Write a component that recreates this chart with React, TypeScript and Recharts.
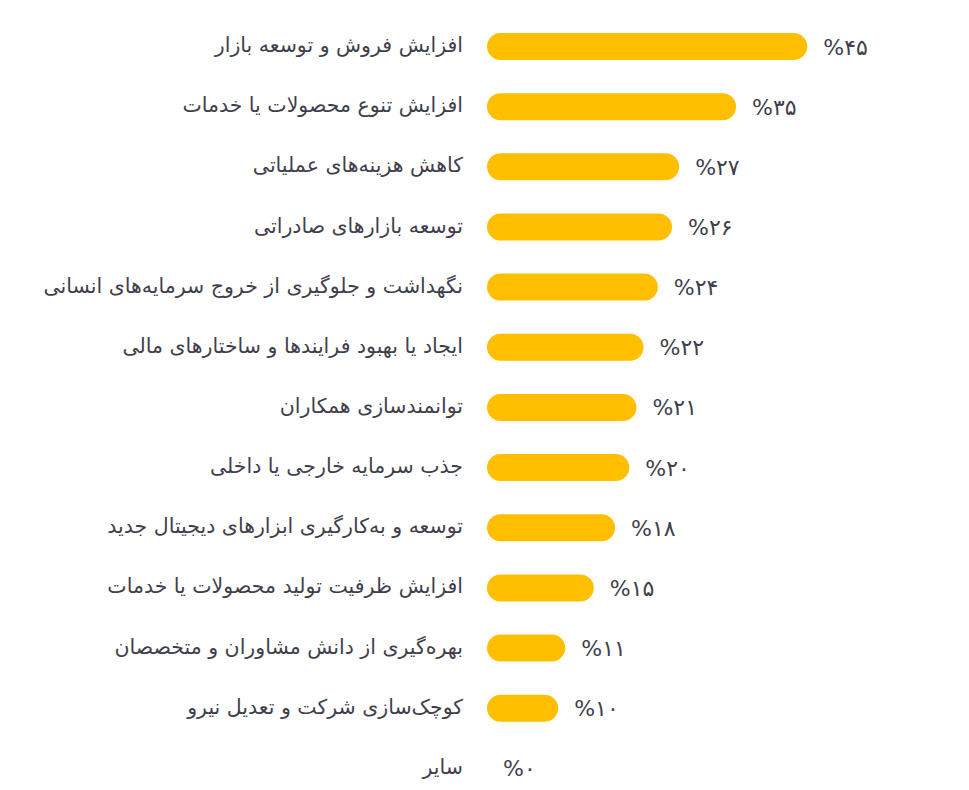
import { BarChart, Bar, XAxis, YAxis, LabelList, Cell } from "recharts";

const categories = [
  "افزایش فروش و توسعه بازار",
  "افزایش تنوع محصولات یا خدمات",
  "کاهش هزینه‌های عملیاتی",
  "توسعه بازارهای صادراتی",
  "نگهداشت و جلوگیری از خروج سرمایه‌های انسانی",
  "ایجاد یا بهبود فرایندها و ساختارهای مالی",
  "توانمندسازی همکاران",
  "جذب سرمایه خارجی یا داخلی",
  "توسعه و به‌کارگیری ابزارهای دیجیتال جدید",
  "افزایش ظرفیت تولید محصولات یا خدمات",
  "بهره‌گیری از دانش مشاوران و متخصصان",
  "کوچک‌سازی شرکت و تعدیل نیرو",
  "سایر",
];
const values = [45, 35, 27, 26, 24, 22, 21, 20, 18, 15, 11, 10, 0];

const data = categories.map((name, i) => ({ name, value: values[i] }));

const TEXT = "#3f3f4c";
const FONT = "'DejaVu Sans', 'Noto Sans', sans-serif";

const faDigits = (n: number) =>
  String(n).replace(/\d/g, (d) => "۰۱۲۳۴۵۶۷۸۹"[Number(d)]);

function CategoryTick(props: any) {
  const { x, y, payload } = props;
  return (
    <text
      x={x - 16}
      y={y}
      dy={6}
      textAnchor="end"
      fill={TEXT}
      fontSize={20.5}
      fontFamily={FONT}
    >
      {payload.value}
    </text>
  );
}

function ValueLabel(props: any) {
  const { x, y, width, height, value } = props;
  return (
    <text
      x={x + width + 16}
      y={y + height / 2}
      dy={8}
      textAnchor="start"
      fill={TEXT}
      fontSize={22}
      fontFamily={FONT}
    >
      {"%" + faDigits(value)}
    </text>
  );
}

export default function App() {
  return (
    <div
      style={{
        position: "absolute",
        top: 0,
        left: 0,
        width: 969,
        height: 790,
        overflow: "hidden",
        background: "#fff",
      }}
    >
      <BarChart
        width={969}
        height={800}
        data={data}
        layout="vertical"
        margin={{ top: 16, right: 55, bottom: 2, left: 0 }}
      >
        <XAxis type="number" domain={[0, 60]} hide />
        <YAxis
          type="category"
          dataKey="name"
          width={487}
          axisLine={false}
          tickLine={false}
          tick={<CategoryTick />}
          interval={0}
        />
        <Bar
          dataKey="value"
          fill="#FFBE00"
          barSize={27}
          radius={[14, 14, 14, 14]}
          minPointSize={0.01}
          isAnimationActive={false}
        >
          {data.map((d, i) => (
            <Cell key={i} fill={d.value > 0 ? "#FFBE00" : "transparent"} />
          ))}
          <LabelList dataKey="value" content={<ValueLabel />} />
        </Bar>
      </BarChart>
    </div>
  );
}
